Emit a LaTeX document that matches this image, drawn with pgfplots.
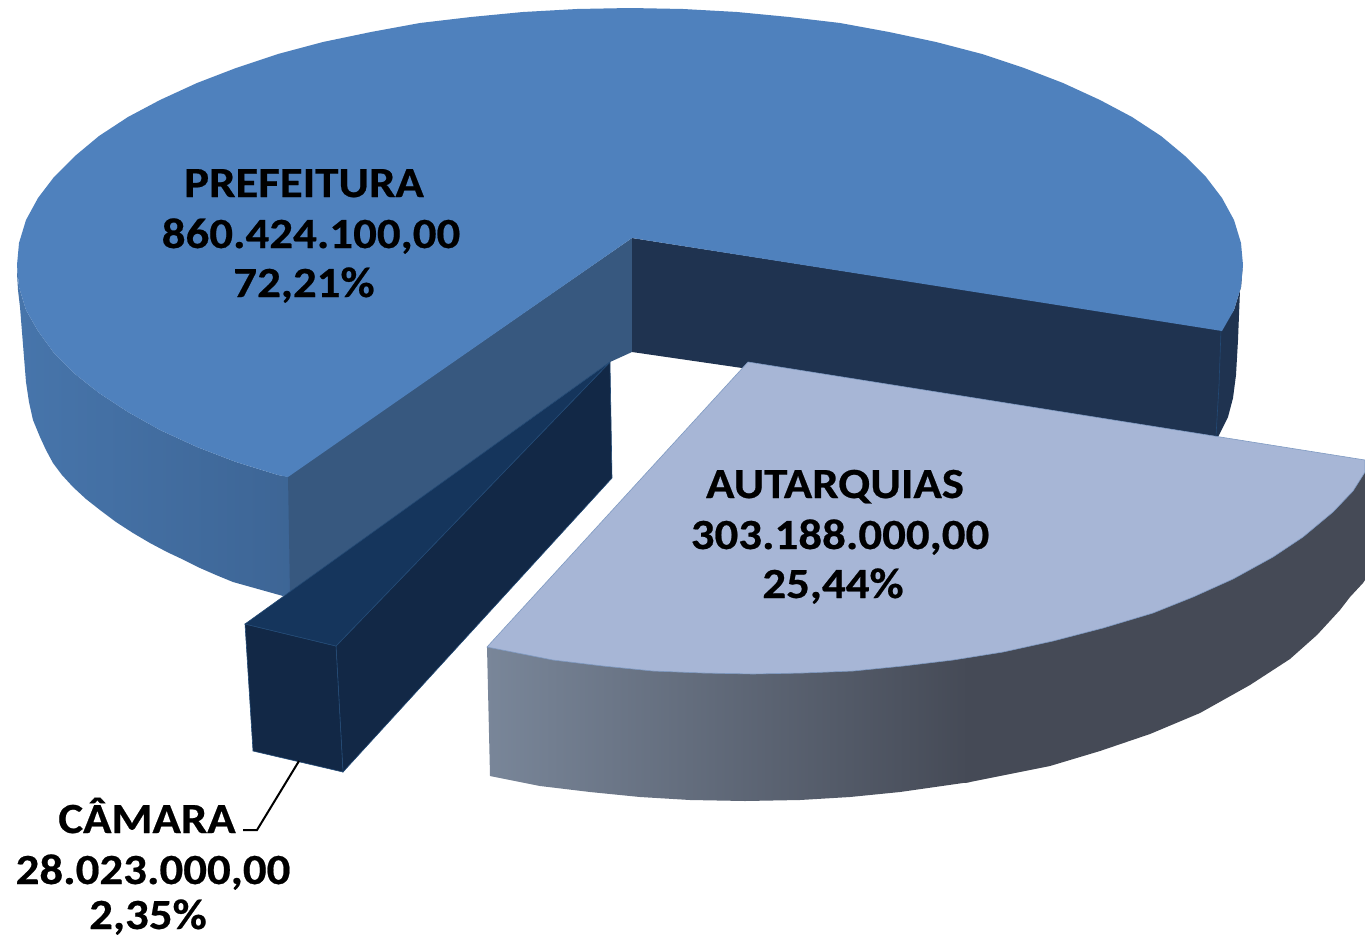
\documentclass[border=0pt]{standalone}
\usepackage{fontspec}
\setmainfont{Carlito}[FakeStretch=1.09,BoldFeatures={FakeBold=0.5}]
\usepackage{pgfplots}
\pgfplotsset{compat=1.18}
\definecolor{maintop}{HTML}{4F81BD}
\definecolor{mainsideL}{HTML}{4775AB}
\definecolor{mainsideR}{HTML}{3D6595}
\definecolor{maincut}{HTML}{37587F}
\definecolor{maindark}{HTML}{1F3350}
\definecolor{camtop}{HTML}{15355C}
\definecolor{camside}{HTML}{122846}
\definecolor{camedge}{HTML}{234A75}
\definecolor{auttop}{HTML}{A7B6D6}
\definecolor{autedge}{HTML}{7F9AC2}
\definecolor{autsideL}{HTML}{798699}
\definecolor{autsideR}{HTML}{454A56}
\tikzset{lbl/.style={font=\fontsize{21.5}{24}\selectfont\bfseries, anchor=base, inner sep=0pt, text=black}}
\begin{document}
\begin{tikzpicture}
\begin{axis}[
  scale only axis, width=682.5pt, height=468.5pt,
  xmin=0, xmax=1365, ymin=0, ymax=937, y dir=reverse,
  axis lines=none, no markers
]
\addplot[draw=none, fill=white] coordinates {(0,0)(1365,0)(1365,937)(0,937)} --cycle;

% prefeitura: outer wall
\addplot[draw=none, left color=mainsideL, right color=mainsideR] coordinates {
  (17,265)(19,287)(26,310)(38,331)(54,353)(75,374)(99,393)(128,412)(160,430)(197,447)(236,462)(278,475)(296,478)
  (296,590)(283,596)(258,589)(233,582)(216,575)(200,568)(184,560)(167,552)(150,543)(133,533)(116,522)(100,510)(86,499)
  (73,487)(62,475)(53,463)(46,450)(40,437)(33,420)(29,402)(26,382)(24,357)(22,332)(20,307)(18,290)(17,273)
} --cycle;
% prefeitura: cut faces
\addplot[draw=none, fill=maincut] coordinates {(288,476)(632,238)(632,352)(610,362)(290,593)} --cycle;
\addplot[draw=none, fill=maindark] coordinates {(632,238)(1222,330)(1217,437)(632,352)} --cycle;
\addplot[draw=none, fill=maindark] coordinates {
  (1221,329)(1234,310)(1241,287)(1243,262)(1240,290)(1239,315)(1238,340)(1236,375)(1233,398)(1228,417)(1218,437)(1205,435)(1210,329)
} --cycle;
\addplot[camedge, line width=.3pt] coordinates {(1221,330)(1219,385)(1216,436)};
% prefeitura: top
\addplot[draw=none, fill=maintop] coordinates {
  (1222,331)(1234,310)(1241,287)(1243,265)(1241,243)(1234,220)(1222,198)(1206,177)(1185,156)(1161,136)
  (1132,117)(1100,100)(1063,83)(1024,68)(982,54)(936,42)(889,32)(840,23)(789,17)(737,12)(683,9)(630,8)
  (577,9)(523,12)(471,17)(420,23)(371,32)(323,42)(278,54)(236,68)(197,83)(160,100)(128,117)(99,136)
  (75,156)(54,177)(38,198)(26,220)(19,243)(17,265)(19,287)(26,310)(38,331)(54,353)(75,374)(99,393)
  (128,412)(160,430)(197,447)(236,462)(278,475)(288,477)(632,238)
} --cycle;

% camara
\addplot[draw=camedge, line width=.3pt, fill=camside] coordinates {(336,646)(610,362)(612,478)(343,772)} --cycle;
\addplot[draw=camedge, line width=.3pt, fill=camside] coordinates {(245,624)(336,646)(343,772)(253,751)} --cycle;
\addplot[draw=camedge, line width=.3pt, fill=camtop] coordinates {(610,362)(245,624)(336,646)} --cycle;

% autarquias
\addplot[draw=none, left color=autsideL, right color=autsideR] coordinates {
  (487,647)(553,655)(620,650)(970,640)(970,782)(900,792)(850,797)(800,800)(745,801)(690,800)(640,797)(590,792)(540,786)(490,776)
} --cycle;
\addplot[draw=none, fill=autsideR] coordinates {
  (965,640)(1365,460)(1365,580)(1363,583)(1350,597)(1340,610)(1317,635)(1290,659)(1250,685)(1200,713)(1150,734)(1100,751)(1050,766)(1000,776)(965,783)
} --cycle;
\addplot[draw=autedge, line width=.3pt, fill=auttop] coordinates {
  (748,362)(1365,460)(1365,472)(1353,491)(1333,512)(1303,537)(1273,557)(1233,579)(1193,597)(1153,613)(1103,628)(1053,641)
  (1003,652)(953,660)(903,666)(853,671)(803,673)(753,674)(703,673)(653,671)(603,666)(553,660)(487,647)
} --cycle;

% leader
\addplot[black, line width=1pt] coordinates {(299,761)(257,830)(243,830)};

\node[lbl] at (axis cs:304,197) {PREFEITURA};
\node[lbl] at (axis cs:311,248) {860.424.100,00};
\node[lbl] at (axis cs:304,297) {72,21\%};
\node[lbl] at (axis cs:835,498) {AUTARQUIAS};
\node[lbl] at (axis cs:840,549) {303.188.000,00};
\node[lbl] at (axis cs:833,598) {25,44\%};
\node[lbl] at (axis cs:147,833) {CÂMARA};
\node[lbl] at (axis cs:153,884) {28.023.000,00};
\node[lbl] at (axis cs:148,929) {2,35\%};
\end{axis}
\end{tikzpicture}
\end{document}
